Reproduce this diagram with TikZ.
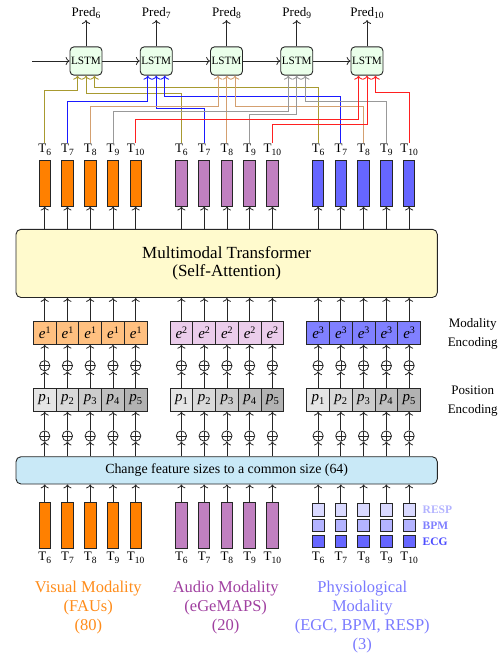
\documentclass[tikz,border=0pt]{standalone}
\usepackage{fontspec}
\setmainfont{Liberation Serif}
\usetikzlibrary{calc,arrows.meta}
\definecolor{visbar}{HTML}{FF8000}
\definecolor{vise}{HTML}{FFC080}
\definecolor{audbar}{HTML}{C080C0}
\definecolor{aude}{HTML}{EBCDEB}
\definecolor{phybar}{HTML}{6666FF}
\definecolor{phye}{HTML}{8080FF}
\definecolor{respc}{HTML}{D9D9FF}
\definecolor{bpmc}{HTML}{B3B3FF}
\definecolor{ecgc}{HTML}{6666FF}
\definecolor{resptx}{HTML}{B3B3FF}
\definecolor{bpmtx}{HTML}{8080FF}
\definecolor{ecgtx}{HTML}{4D4DFF}
\definecolor{vistx}{HTML}{FF8C1A}
\definecolor{audtx}{HTML}{A040A0}
\definecolor{phytx}{HTML}{7A7AFF}
\definecolor{trfill}{HTML}{FFFACD}
\definecolor{chfill}{HTML}{C9E9F7}
\definecolor{lstmfill}{HTML}{EAFFEA}
\definecolor{cone}{HTML}{A89A30}
\definecolor{ctwo}{HTML}{1A1AFF}
\definecolor{cthree}{HTML}{D4A070}
\definecolor{cfour}{HTML}{999999}
\definecolor{cfive}{HTML}{FF2020}
\newcommand{\lowsub}[1]{\raisebox{-2.6pt}{\fontsize{9.5}{9.5}\selectfont #1}}
\newcommand{\bigsub}[1]{\raisebox{-2.8pt}{\fontsize{10.5}{10.5}\selectfont #1}}
\newcommand{\bigsup}[1]{\raisebox{4.6pt}{\fontsize{10}{10}\selectfont #1}}
\begin{document}
\begin{tikzpicture}[x=1pt,y=-1pt,>={To[scale=1.15]},
  mybox/.style={draw=black!85, line width=0.9pt},
  mybar/.style={mybox, minimum width=11.5pt, minimum height=45.5pt, inner sep=0pt},
  sqbox/.style={mybox, minimum width=11.7pt, minimum height=12.6pt, inner sep=0pt},
  tlab/.style={font=\fontsize{13}{13}\selectfont, inner sep=1.5pt},
  ebox/.style={mybox, minimum width=22.75pt, minimum height=22.6pt, inner sep=0pt, font=\fontsize{15}{15}\selectfont},
  opl/.style={circle, draw=black!85, line width=0.8pt, minimum size=10.3pt, inner sep=0pt,
    path picture={\draw[line width=0.7pt] (path picture bounding box.north) -- (path picture bounding box.south)
      (path picture bounding box.west) -- (path picture bounding box.east);}},
  arr/.style={->, line width=0.8pt, black!85},
  conn/.style={->, line width=0.9pt},
  lstm/.style={mybox, rounded corners=4pt, fill=lstmfill, minimum width=32pt, minimum height=28.3pt, inner sep=0pt, font=\fontsize{11.2}{11.2}\selectfont},
  bigbox/.style={mybox, rounded corners=5pt, minimum width=421.3pt, inner sep=0pt, align=center},
  sidelab/.style={align=center, font=\fontsize{13}{19.3}\selectfont},
  modlab/.style={align=center, font=\fontsize{16.5}{19}\selectfont},
  sqlab/.style={anchor=west, inner sep=0pt, font=\fontsize{11.5}{11.5}\selectfont\bfseries},
  predlab/.style={font=\fontsize{13}{13}\selectfont, inner sep=1pt}
]
\useasboundingbox (0,0) rectangle (502,657);

% LSTM chain
\foreach \k in {1,...,5} {
  \pgfmathsetmacro{\lx}{86+70.25*(\k-1)}
  \pgfmathtruncatemacro{\t}{\k+5}
  \node[lstm] (l\k) at (\lx,61) {LSTM};
  \node[predlab] (pr\k) at (\lx,13) {Pred\lowsub{\t}};
  \draw[arr] (l\k.north) -- (pr\k.south);
  \coordinate (la\k) at ([xshift=-8.5pt]l\k.south);
  \coordinate (lb\k) at (l\k.south);
  \coordinate (lc\k) at ([xshift=8.5pt]l\k.south);
}
\coordinate (st) at (32,61);
\draw[arr] (st) -- (l1.west);
\draw[arr] (l1.east) -- (l2.west);
\draw[arr] (l2.east) -- (l3.west);
\draw[arr] (l3.east) -- (l4.west);
\draw[arr] (l4.east) -- (l5.west);

% big boxes
\node[bigbox, fill=trfill, minimum height=68.2pt, font=\fontsize{17}{18.7}\selectfont] (tr) at (226.65,263.4)
  {Multimodal Transformer\\(Self-Attention)};
\node[bigbox, fill=chfill, minimum height=27.3pt, font=\fontsize{13.9}{14}\selectfont] (ch) at (226.65,470.35)
  {Change feature sizes to a common size (64)};

% columns
\foreach \g/\n/\bc/\ec in {0/v/visbar/vise,1/a/audbar/aude,2/s/phybar/phye} {
  \foreach \j in {1,...,5} {
    \pgfmathsetmacro{\x}{44.7+136.7*\g+22.75*(\j-1)}
    \pgfmathtruncatemacro{\t}{\j+5}
    \pgfmathtruncatemacro{\gg}{\g+1}
    \pgfmathtruncatemacro{\pc}{5+5*\j}
    \node[tlab] (tt-\n\j) at (\x,150) {T\lowsub{\t}};
    \node[mybar, fill=\bc] (bt-\n\j) at (\x,183.4) {};
    \node[ebox, fill=\ec] (e-\n\j) at (\x,333) {{\itshape e}\bigsup{\gg}};
    \node[opl] (oa-\n\j) at (\x,365.7) {};
    \node[ebox, fill=black!\pc] (p-\n\j) at (\x,400) {{\itshape p}\bigsub{\j}};
    \node[opl] (ob-\n\j) at (\x,436) {};
    \node[tlab] (tb-\n\j) at (\x,557.5) {T\lowsub{\t}};
    \draw[arr] (bt-\n\j.south |- tr.north) -- (bt-\n\j.south);
    \draw[arr] (e-\n\j.north) -- (e-\n\j.north |- tr.south);
    \draw[arr] (oa-\n\j.north) -- (e-\n\j.south);
    \draw[arr] (p-\n\j.north) -- (oa-\n\j.south);
    \draw[arr] (ob-\n\j.north) -- (p-\n\j.south);
    \draw[arr] (ob-\n\j.south |- ch.north) -- (ob-\n\j.south);
  }
}
% bottom inputs
\foreach \g/\n/\bc in {0/v/visbar,1/a/audbar} {
  \foreach \j in {1,...,5} {
    \pgfmathsetmacro{\x}{44.7+136.7*\g+22.75*(\j-1)}
    \node[mybar, fill=\bc, minimum height=46pt] (bb-\n\j) at (\x,525.3) {};
    \draw[arr] (bb-\n\j.north) -- (bb-\n\j.north |- ch.south);
  }
}
\foreach \j in {1,...,5} {
  \pgfmathsetmacro{\x}{318.1+22.75*(\j-1)}
  \node[sqbox, fill=respc] (bb-s\j) at (\x,509.7) {};
  \node[sqbox, fill=bpmc] (bpm-\j) at (\x,525.3) {};
  \node[sqbox, fill=ecgc] (ecg-\j) at (\x,541.3) {};
  \draw[arr] (bb-s\j.north) -- (bb-s\j.north |- ch.south);
}
\node[sqlab, text=resptx] (lresp) at (422.5,509.7) {RESP};
\node[sqlab, text=bpmtx] (lbpm) at (422.5,525.3) {BPM};
\node[sqlab, text=ecgtx] (lecg) at (422.5,541.3) {ECG};

% side labels
\node[sidelab] (modenc) at (472.7,333.7) {Modality\\Encoding};
\node[sidelab] (posenc) at (472.7,401) {Position\\Encoding};

% modality labels
\node[modlab, text=vistx] (mvis) at (88.3,607.3) {Visual Modality\\(FAUs)\\(80)};
\node[modlab, text=audtx] (maud) at (225.7,607.3) {Audio Modality\\(eGeMAPS)\\(20)};
\node[modlab, text=phytx] (mphy) at (362.3,616.8) {Physiological\\Modality\\(EGC, BPM, RESP)\\(3)};

% connectors to LSTMs
% T6 olive
\draw[conn, cone] (tt-v1.north) |- (la1 |- 0,90) -- (la1);
\draw[conn, cone] (tt-a1.north) |- (lb1 |- 0,93) -- (lb1);
\draw[conn, cone] (tt-s1.north) |- (lc1 |- 0,87.7) -- (lc1);
% T7 blue
\draw[conn, ctwo] (tt-v2.north) |- (la2 |- 0,101) -- (la2);
\draw[conn, ctwo] (tt-a2.north) |- (lb2 |- 0,108.5) -- (lb2);
\draw[conn, ctwo] (tt-s2.north) |- (lc2 |- 0,96.8) -- (lc2);
% T8 tan
\draw[conn, cthree] (tt-v3.north) |- (la3 |- 0,106) -- (la3);
\draw[conn, cthree] (tt-a3.north) -- (tt-a3.north |- lb3);
\draw[conn, cthree] (tt-s3.north) |- (lc3 |- 0,106.5) -- (lc3);
% T9 gray
\draw[conn, cfour] (tt-v4.north) |- (la4 |- 0,111) -- (la4);
\draw[conn, cfour] (tt-a4.north) |- (lb4 |- 0,114.7) -- (lb4);
\draw[conn, cfour] (tt-s4.north) |- (lc4 |- 0,101.5) -- (lc4);
% T10 red
\draw[conn, cfive] (tt-v5.north) |- (la5 |- 0,119.3) -- (la5);
\draw[conn, cfive] (tt-a5.north) |- (lb5 |- 0,124.5) -- (lb5);
\draw[conn, cfive] (tt-s5.north) |- (lc5 |- 0,92.3) -- (lc5);
\end{tikzpicture}
\end{document}
